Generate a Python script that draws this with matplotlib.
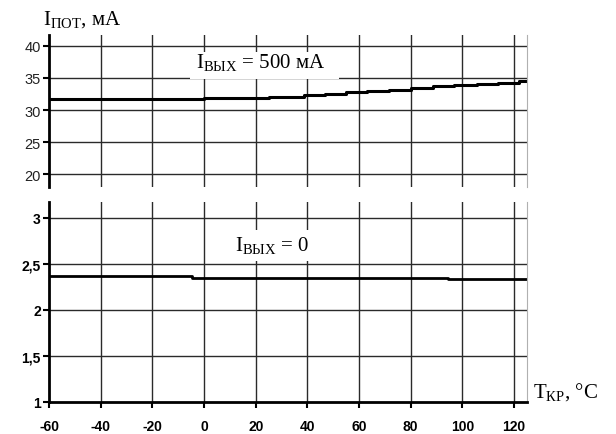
import matplotlib
matplotlib.use('Agg')
import matplotlib.pyplot as plt
from matplotlib.patches import Rectangle

plt.rcParams['mathtext.fontset'] = 'custom'
plt.rcParams['mathtext.rm'] = 'Liberation Serif'
plt.rcParams['mathtext.it'] = 'Liberation Serif:italic'
plt.rcParams['mathtext.bf'] = 'Liberation Serif:bold'

# I_вых = 500 mA, step-like trace
temp_500 = [-60, 0, 25, 38.5, 47, 55, 63, 71.5, 80, 88.6, 96.7, 105.6, 113.8, 122, 125]
ipot_500 = [31.7, 31.9, 32.1, 32.3, 32.55, 32.75, 33.0, 33.2, 33.45, 33.7, 33.9, 34.05, 34.25, 34.5, 34.5]

# I_вых = 0
temp_0 = [-60, -4.5, 94.5, 125]
ipot_0 = [2.365, 2.345, 2.33, 2.33]

x_ticks = [-60, -40, -20, 0, 20, 40, 60, 80, 100, 120]
top_yticks = [20, 25, 30, 35, 40]
bot_yticks = [1, 1.5, 2, 2.5, 3]
bot_ylabels = ['1', '1,5', '2', '2,5', '3']

W, H = 616, 435
fig = plt.figure(figsize=(W / 100, H / 100), dpi=100)

grid_kw = dict(color='#2a2a2a', lw=1.0)

# top panel
ax1 = fig.add_axes([49 / W, 1 - 188 / H, 478 / W, 152 / H])
ax1.set_xlim(-60, 125)
ax1.set_ylim(18, 41.7)
for y in top_yticks:
    ax1.axhline(y, zorder=1, **grid_kw)
for x in x_ticks[1:]:
    ax1.axvline(x, zorder=1, **grid_kw)
ax1.plot(temp_500, ipot_500, drawstyle='steps-post', color='black', lw=2.2, zorder=2)
ax1.set_yticks(top_yticks)
ax1.set_yticklabels([str(v) for v in top_yticks], fontsize=10.5,
                    family='Liberation Sans', color='#222222')
ax1.set_xticks([])
for s in ['top', 'bottom']:
    ax1.spines[s].set_visible(False)
ax1.spines['right'].set_color('#b0b0b0')
ax1.spines['left'].set_linewidth(2.0)
ax1.tick_params(axis='y', direction='out', length=4, width=1.5, pad=2)
# white patch behind label (hides grid)
ax1.add_patch(Rectangle((-5.3, 34.84), 57.4, 4.22, facecolor='white',
                        edgecolor='none', zorder=1.5))
ax1.text(22, 37.5, r'$\mathrm{I}_{\mathrm{ВЫХ}}$ = 500 мА', fontsize=15,
         family='Liberation Serif', ha='center', va='center', zorder=3)

# bottom panel
ax2 = fig.add_axes([49 / W, 1 - 403 / H, 478 / W, 200 / H])
ax2.set_xlim(-60, 125)
ax2.set_ylim(1, 3.17)
for y in bot_yticks[1:]:
    ax2.axhline(y, zorder=1, **grid_kw)
for x in x_ticks[1:]:
    ax2.axvline(x, zorder=1, **grid_kw)
ax2.plot(temp_0, ipot_0, drawstyle='steps-post', color='black', lw=2.0, zorder=2)
ax2.set_yticks(bot_yticks)
ax2.set_yticklabels(bot_ylabels, fontsize=10, family='Liberation Sans', fontweight='bold')
ax2.set_xticks(x_ticks)
ax2.set_xticklabels([str(v) for v in x_ticks], fontsize=10, family='Liberation Sans',
                    fontweight='bold')
ax2.spines['top'].set_visible(False)
ax2.spines['right'].set_color('#b0b0b0')
ax2.spines['left'].set_linewidth(2.0)
ax2.spines['bottom'].set_linewidth(2.0)
ax2.tick_params(axis='both', direction='out', length=4, width=1.5)
ax2.tick_params(axis='x', pad=8)
ax2.tick_params(axis='y', pad=2)
ax2.add_patch(Rectangle((7.1, 2.53), 38.8, 0.34, facecolor='white',
                        edgecolor='none', zorder=1.5))
ax2.text(26.5, 2.71, r'$\mathrm{I}_{\mathrm{ВЫХ}}$ = 0', fontsize=15,
         family='Liberation Serif', ha='center', va='center', zorder=3)

fig.text(43 / W, 1 - 20 / H, r'$\mathrm{I}_{\mathrm{ПОТ}}$, мА', fontsize=15,
         family='Liberation Serif', ha='left', va='center')
fig.text(533 / W, 1 - 392 / H, r'$\mathrm{T}_{\mathrm{КР}}$, °C', fontsize=15,
         family='Liberation Serif', ha='left', va='center')

fig.savefig('out.png', dpi=100)
